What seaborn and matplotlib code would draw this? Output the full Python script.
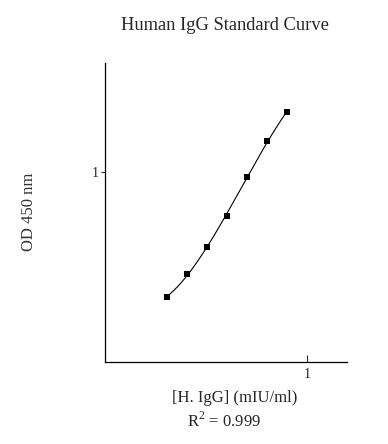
import numpy as np
import pandas as pd
import seaborn as sns
import matplotlib.pyplot as plt
from matplotlib.ticker import FixedLocator, NullLocator, FixedFormatter

conc = [0.0078125, 0.015625, 0.03125, 0.0625, 0.125, 0.25, 0.5]
od = [0.236, 0.310, 0.422, 0.604, 0.941, 1.434, 1.988]
r2_text = 'R$^2$ = 0.999'

data = pd.DataFrame({'conc': conc, 'od': od})

# smooth fit in log-log space
coef = np.polyfit(np.log10(data['conc']), np.log10(data['od']), 3)
xs = np.logspace(np.log10(conc[0]), np.log10(conc[-1]), 200)
fit = pd.DataFrame({'conc': xs, 'od': 10 ** np.polyval(coef, np.log10(xs))})

sns.set_style('ticks')
plt.rcParams['font.family'] = ['Liberation Serif', 'DejaVu Serif']
plt.rcParams['mathtext.fontset'] = 'custom'
plt.rcParams['mathtext.rm'] = 'Liberation Serif'

fig = plt.figure(figsize=(3.88, 4.44), dpi=100)
ax = fig.add_axes([0.2706, 0.1847, 0.6237, 0.6734])

sns.lineplot(data=fit, x='conc', y='od', ax=ax, color='black', linewidth=0.8)
sns.scatterplot(data=data, x='conc', y='od', ax=ax, marker='s', color='black',
                s=18, edgecolor='black', linewidth=0, zorder=3)

ax.set_xscale('log')
ax.set_yscale('log')
ax.set_xlim(0.00091, 4.0)
ax.set_ylim(0.112, 3.51)
ax.xaxis.set_major_locator(FixedLocator([1]))
ax.xaxis.set_major_formatter(FixedFormatter(['1']))
ax.xaxis.set_minor_locator(NullLocator())
ax.yaxis.set_major_locator(FixedLocator([1]))
ax.yaxis.set_major_formatter(FixedFormatter(['1']))
ax.yaxis.set_minor_locator(NullLocator())
ax.tick_params(axis='x', direction='in', length=5, width=0.8, labelsize=10, pad=4)
ax.tick_params(axis='y', direction='out', length=3, width=0.8, labelsize=10, pad=1.5)
for side in ['top', 'right']:
    ax.spines[side].set_visible(False)
for side in ['left', 'bottom']:
    ax.spines[side].set_linewidth(0.9)
    ax.spines[side].set_color('black')

ax.set_xlabel('')
ax.set_ylabel('')
fig.text(225 / 388, 1 - 25 / 444, 'Human IgG Standard Curve', ha='center', va='center', fontsize=13.3)
fig.text(235 / 388, 1 - 398 / 444, '[H. IgG] (mIU/ml)', ha='center', va='center', fontsize=12)
fig.text(224 / 388, 1 - 421 / 444, r2_text, ha='center', va='center', fontsize=12)
fig.text(29 / 388, 1 - 212 / 444, 'OD 450 nm', ha='center', va='center', rotation=90, fontsize=12, color='#333333')

fig.savefig('out.png', dpi=100)
